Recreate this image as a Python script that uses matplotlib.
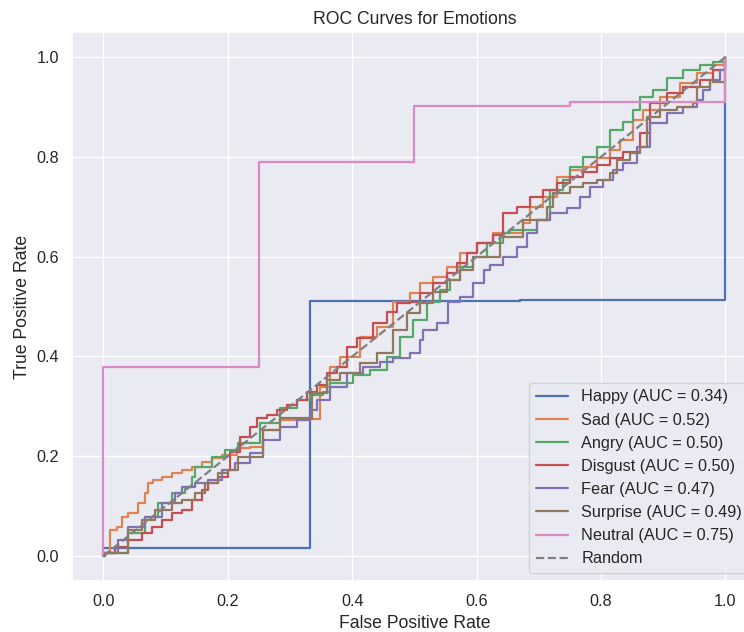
import matplotlib
matplotlib.use("Agg")
import matplotlib.pyplot as plt
import seaborn as sns

sns.set_theme(style="darkgrid")
plt.rcParams["font.family"] = ["Liberation Sans", "DejaVu Sans"]

emotions = ["Happy", "Sad", "Angry", "Disgust", "Fear", "Surprise", "Neutral"]
auc_vals = [0.34, 0.52, 0.50, 0.50, 0.47, 0.49, 0.75]

# step-shaped curves (corners given)
fpr_happy = [0, 0, 0.332, 0.332, 0.67, 0.67, 1.0, 1.0]
tpr_happy = [0, 0.016, 0.016, 0.51, 0.51, 0.513, 0.513, 1.0]

fpr_neutral = [0, 0, 0.25, 0.25, 0.5, 0.5, 0.75, 0.75, 1.0, 1.0]
tpr_neutral = [0, 0.379, 0.379, 0.79, 0.79, 0.902, 0.902, 0.91, 0.91, 1.0]

# noisy curves, drawn as post steps
fpr_sad = [0, 0.002, 0.010, 0.022, 0.030, 0.039, 0.055, 0.067, 0.072, 0.080, 0.094,
           0.110, 0.126, 0.142, 0.158, 0.174, 0.191, 0.215, 0.236, 0.256, 0.284, 0.332,
           0.348, 0.364, 0.380, 0.412, 0.440, 0.465, 0.493, 0.509, 0.530, 0.552, 0.573,
           0.600, 0.626, 0.674, 0.686, 0.707, 0.729, 0.750, 0.771, 0.793, 0.814, 0.830,
           0.851, 0.867, 0.895, 0.927, 0.954, 0.980, 0.999, 1.0]
tpr_sad = [0, 0.006, 0.052, 0.058, 0.078, 0.086, 0.106, 0.126, 0.146, 0.152, 0.158,
           0.166, 0.172, 0.178, 0.188, 0.196, 0.202, 0.216, 0.218, 0.252, 0.273, 0.275,
           0.339, 0.379, 0.399, 0.439, 0.459, 0.509, 0.527, 0.547, 0.559, 0.579, 0.607,
           0.627, 0.647, 0.667, 0.699, 0.719, 0.760, 0.774, 0.780, 0.798, 0.814, 0.834,
           0.874, 0.894, 0.920, 0.948, 0.968, 0.984, 0.994, 1.0]

fpr_angry = [0, 0.002, 0.039, 0.067, 0.088, 0.110, 0.131, 0.142, 0.147, 0.174, 0.195,
             0.216, 0.252, 0.284, 0.311, 0.332, 0.353, 0.364, 0.401, 0.428, 0.456, 0.477,
             0.498, 0.520, 0.541, 0.557, 0.573, 0.594, 0.617, 0.642, 0.653, 0.697, 0.718,
             0.739, 0.750, 0.771, 0.793, 0.814, 0.835, 0.851, 0.863, 0.883, 0.906, 0.932,
             0.959, 0.980, 0.999, 1.0]
tpr_angry = [0, 0.006, 0.046, 0.078, 0.106, 0.126, 0.138, 0.158, 0.178, 0.198, 0.212,
             0.226, 0.267, 0.297, 0.313, 0.323, 0.329, 0.347, 0.363, 0.373, 0.399, 0.439,
             0.473, 0.509, 0.533, 0.553, 0.579, 0.599, 0.627, 0.647, 0.653, 0.673, 0.733,
             0.753, 0.780, 0.800, 0.820, 0.854, 0.870, 0.894, 0.920, 0.934, 0.958, 0.974,
             0.984, 0.990, 0.996, 1.0]

fpr_disgust = [0, 0.002, 0.018, 0.039, 0.062, 0.078, 0.094, 0.110, 0.126, 0.142, 0.158,
               0.168, 0.184, 0.200, 0.203, 0.219, 0.236, 0.247, 0.263, 0.279, 0.295, 0.311,
               0.327, 0.343, 0.359, 0.375, 0.391, 0.408, 0.433, 0.456, 0.472, 0.493, 0.509,
               0.530, 0.552, 0.568, 0.584, 0.600, 0.626, 0.642, 0.665, 0.686, 0.707, 0.729,
               0.750, 0.771, 0.793, 0.814, 0.835, 0.863, 0.879, 0.906, 0.932, 0.959, 0.980,
               0.999, 1.0]
tpr_disgust = [0, 0.006, 0.018, 0.032, 0.046, 0.058, 0.072, 0.086, 0.092, 0.112, 0.132,
               0.146, 0.158, 0.172, 0.208, 0.238, 0.259, 0.277, 0.283, 0.293, 0.303, 0.313,
               0.329, 0.343, 0.367, 0.379, 0.419, 0.437, 0.467, 0.489, 0.507, 0.509, 0.527,
               0.547, 0.567, 0.587, 0.607, 0.627, 0.643, 0.687, 0.699, 0.719, 0.733, 0.747,
               0.760, 0.770, 0.784, 0.798, 0.810, 0.848, 0.908, 0.928, 0.940, 0.954, 0.974,
               0.990, 1.0]

fpr_fear = [0, 0.002, 0.023, 0.039, 0.067, 0.094, 0.115, 0.126, 0.147, 0.168, 0.191,
            0.211, 0.236, 0.256, 0.284, 0.311, 0.332, 0.343, 0.364, 0.391, 0.417, 0.445,
            0.466, 0.493, 0.509, 0.514, 0.537, 0.554, 0.573, 0.594, 0.611, 0.622, 0.642,
            0.665, 0.681, 0.697, 0.718, 0.745, 0.766, 0.782, 0.803, 0.819, 0.835, 0.858,
            0.879, 0.906, 0.932, 0.954, 0.964, 0.975, 0.991, 0.999, 1.0]
tpr_fear = [0, 0.006, 0.032, 0.058, 0.078, 0.106, 0.126, 0.138, 0.146, 0.152, 0.172,
            0.186, 0.206, 0.232, 0.259, 0.273, 0.293, 0.313, 0.339, 0.367, 0.379, 0.389,
            0.397, 0.407, 0.433, 0.453, 0.467, 0.509, 0.519, 0.547, 0.573, 0.583, 0.599,
            0.619, 0.647, 0.673, 0.687, 0.697, 0.719, 0.739, 0.753, 0.774, 0.788, 0.820,
            0.868, 0.888, 0.900, 0.914, 0.934, 0.954, 0.974, 0.990, 1.0]

fpr_surprise = [0, 0.002, 0.039, 0.062, 0.083, 0.110, 0.126, 0.147, 0.163, 0.184, 0.200,
                0.216, 0.256, 0.284, 0.332, 0.335, 0.359, 0.380, 0.412, 0.440, 0.466, 0.488,
                0.509, 0.530, 0.552, 0.573, 0.594, 0.637, 0.674, 0.713, 0.723, 0.750, 0.771,
                0.793, 0.814, 0.826, 0.846, 0.863, 0.874, 0.895, 0.922, 0.948, 0.954, 0.975,
                0.980, 1.0, 1.0]
tpr_surprise = [0, 0.006, 0.052, 0.072, 0.092, 0.106, 0.112, 0.126, 0.146, 0.166, 0.172,
                0.198, 0.253, 0.277, 0.275, 0.327, 0.353, 0.367, 0.387, 0.407, 0.453, 0.487,
                0.507, 0.529, 0.553, 0.573, 0.599, 0.639, 0.673, 0.699, 0.727, 0.739, 0.747,
                0.753, 0.767, 0.794, 0.808, 0.820, 0.880, 0.894, 0.900, 0.908, 0.940, 0.954,
                0.950, 0.950, 1.0]

colors = sns.color_palette("deep", 7)

fig = plt.figure(figsize=(7.44, 6.32), dpi=100)
ax = fig.add_axes([0.0973, 0.0807, 0.9196, 0.8687])

curves = [(fpr_happy, tpr_happy, "default"),
          (fpr_sad, tpr_sad, "steps-post"),
          (fpr_angry, tpr_angry, "steps-post"),
          (fpr_disgust, tpr_disgust, "steps-post"),
          (fpr_fear, tpr_fear, "steps-post"),
          (fpr_surprise, tpr_surprise, "steps-post"),
          (fpr_neutral, tpr_neutral, "default")]

for (fx, ty, ds), name, auc, c in zip(curves, emotions, auc_vals, colors):
    ax.plot(fx, ty, color=c, lw=1.6, drawstyle=ds, label=f"{name} (AUC = {auc:.2f})")

ax.plot([0, 1], [0, 1], color="gray", ls="--", lw=1.6, label="Random")

ax.set_xlabel("False Positive Rate", fontsize=12.7)
ax.set_ylabel("True Positive Rate", fontsize=12.7)
ax.set_title("ROC Curves for Emotions", fontsize=12.7)
ax.tick_params(labelsize=11.7)
ax.legend(loc="lower right", fontsize=11.7)

fig.savefig("out.png", dpi=100)
